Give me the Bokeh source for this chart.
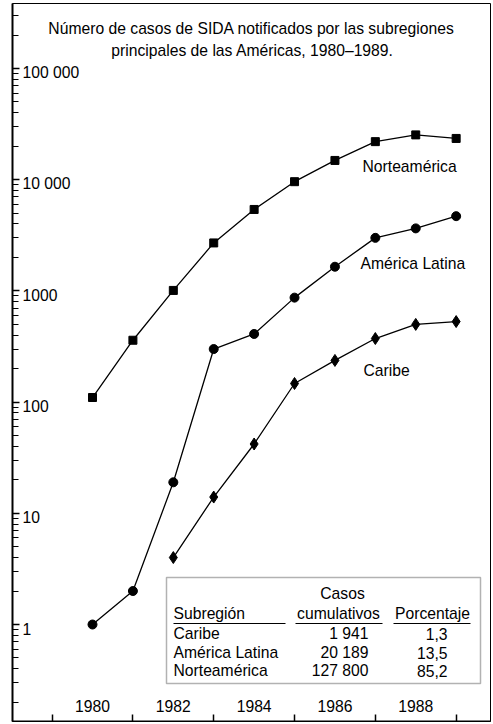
from bokeh.plotting import figure
from bokeh.models import (Range1d, FixedTicker, Label, BoxAnnotation, ColumnDataSource,
                          CustomJSTickFormatter)
from bokeh.core.properties import value
from bokeh.embed import file_html
from bokeh.resources import INLINE

# ---------------- data ----------------
years = [1980, 1981, 1982, 1983, 1984, 1985, 1986, 1987, 1988, 1989]
norteamerica = [110, 360, 1010, 2700, 5400, 9600, 14900, 22000, 25300, 23500]
america_latina = [1, 2, 19, 300, 410, 870, 1650, 3000, 3650, 4700]
caribe_years = [1982, 1983, 1984, 1985, 1986, 1987, 1988, 1989]
caribe = [4, 14, 42, 147, 237, 373, 500, 530]

series_names = ["Norteamérica", "América Latina", "Caribe"]

title_lines = ["Número de casos de SIDA notificados por las subregiones",
               "principales de las Américas, 1980–1989."]

y_tick_values = [1, 10, 100, 1000, 10000, 100000]
y_tick_labels = ["1", "10", "100", "1000", "10 000", "100 000"]
x_label_years = [1980, 1982, 1984, 1986, 1988]
x_tick_years = [1979, 1981, 1983, 1985, 1987, 1989]

table_headers = ["Subregión", "Casos", "cumulativos", "Porcentaje"]
table_regions = ["Caribe", "América Latina", "Norteamérica"]
table_cases = ["1 941", "20 189", "127 800"]
table_percent = ["1,3", "13,5", "85,2"]

FONT = "Liberation Sans"
FS = "15.7px"

# ---------------- figure ----------------
x_start, x_end = 1978.02, 1989.85
y_start, y_end = 0.1342, 384200

p = figure(width=491, height=722, output_backend="svg", toolbar_location=None,
           y_axis_type="log",
           x_range=Range1d(x_start, x_end), y_range=Range1d(y_start, y_end),
           min_border_left=12, min_border_right=1, min_border_top=3, min_border_bottom=1)
p.grid.visible = False
p.outline_line_color = "black"
p.outline_line_width = 1
p.background_fill_color = "white"
p.border_fill_color = "white"

empty = CustomJSTickFormatter(code="return ''")

# axes: ticks inward, labels drawn inside the frame as text
p.xaxis.ticker = FixedTicker(ticks=x_tick_years, minor_ticks=[])
p.xaxis.formatter = empty
p.xaxis.major_tick_in = 7
p.xaxis.major_tick_out = 0
p.xaxis.major_label_standoff = 0
p.xaxis.axis_line_width = 2
p.xaxis.major_tick_line_width = 1.5

p.yaxis.formatter = CustomJSTickFormatter(code="return ''")
p.yaxis.major_tick_in = 7
p.yaxis.major_tick_out = 0
p.yaxis.minor_tick_in = 6
p.yaxis.minor_tick_out = 0
p.yaxis.major_label_standoff = 0
p.yaxis.axis_line_width = 2
p.yaxis.major_tick_line_width = 1.5
p.yaxis.minor_tick_line_width = 1.2

# tick labels inside the frame
ysrc = ColumnDataSource(dict(x=[x_start] * len(y_tick_values), y=y_tick_values, t=y_tick_labels))
p.text(x="x", y="y", text="t", source=ysrc, x_offset=10, y_offset=4,
       text_font=value(FONT), text_font_size=FS, text_baseline="middle", text_align="left",
       text_color="black")
xsrc = ColumnDataSource(dict(x=x_label_years, y=[y_start] * len(x_label_years),
                             t=[str(y) for y in x_label_years]))
p.text(x="x", y="y", text="t", source=xsrc, y_offset=-16,
       text_font=value(FONT), text_font_size=FS, text_baseline="middle", text_align="center",
       text_color="black")

# ---------------- series ----------------
lw = 1.3
p.line(years, norteamerica, line_color="black", line_width=lw)
p.scatter(years, norteamerica, marker="square", size=8, color="black")
p.line(years, america_latina, line_color="black", line_width=lw)
p.scatter(years, america_latina, marker="circle", size=9, color="black")
p.line(caribe_years, caribe, line_color="black", line_width=lw)
p.scatter(caribe_years, caribe, marker="diamond", size=12, color="black")

def lab(text, x, y, align="left", size=FS):
    p.add_layout(Label(x=x, y=y, x_units="screen", y_units="screen", text=text,
                       text_font=FONT, text_font_size=size, text_align=align,
                       text_baseline="middle", text_color="black"))

# title
lab(title_lines[0], 239, 693, "center")
lab(title_lines[1], 240, 671, "center")

# series labels
lab(series_names[0], 350, 555)
lab(series_names[1], 348, 458)
lab(series_names[2], 351, 351)

# ---------------- table ----------------
p.add_layout(BoxAnnotation(left=154, right=468, bottom=38, top=144,
                           left_units="screen", right_units="screen",
                           bottom_units="screen", top_units="screen",
                           fill_color="white", fill_alpha=1.0,
                           line_color="black", line_width=1.5))
for l, r in [(161, 273), (283, 370), (381, 458)]:
    p.add_layout(BoxAnnotation(left=l, right=r, bottom=97.5, top=98.5,
                               left_units="screen", right_units="screen",
                               bottom_units="screen", top_units="screen",
                               fill_color="black", fill_alpha=1.0, line_color=None))
lab(table_headers[0], 161, 108)
lab(table_headers[1], 330, 128, "center")
lab(table_headers[2], 326, 108, "center")
lab(table_headers[3], 420, 108, "center")
for i, fy in enumerate([88, 69, 51]):
    lab(table_regions[i], 161, fy)
    lab(table_cases[i], 356, fy, "right")
    lab(table_percent[i], 435, fy, "right")

open("out.html", "w").write(file_html(p, INLINE))
